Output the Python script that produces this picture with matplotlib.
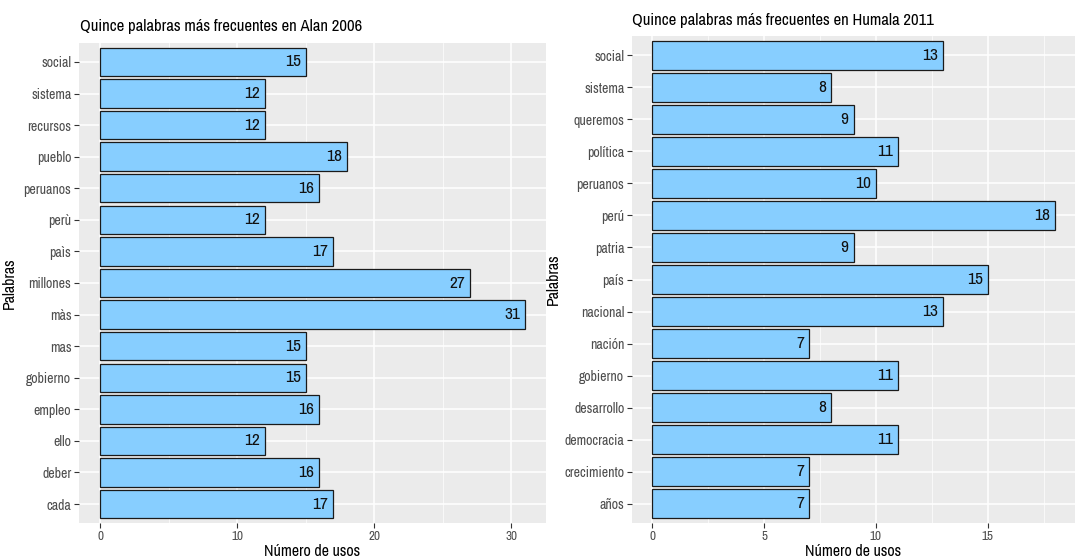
import matplotlib
matplotlib.use("Agg")
import matplotlib.pyplot as plt
from matplotlib import font_manager

fams = set(f.name for f in font_manager.fontManager.ttflist)
FONT = "Liberation Sans"
for cand in ["Liberation Sans Narrow", "Archivo Narrow", "Arimo"]:
    if cand in fams:
        FONT = cand
        break
plt.rcParams['font.family'] = [FONT, 'DejaVu Sans']

alan_words = ["social", "sistema", "recursos", "pueblo", "peruanos", "perù", "paìs",
              "millones", "màs", "mas", "gobierno", "empleo", "ello", "deber", "cada"]
alan_counts = [15, 12, 12, 18, 16, 12, 17, 27, 31, 15, 15, 16, 12, 16, 17]
alan_ticks = [0, 10, 20, 30]

humala_words = ["social", "sistema", "queremos", "política", "peruanos", "perú", "patria",
                "país", "nacional", "nación", "gobierno", "desarrollo", "democracia",
                "crecimiento", "años"]
humala_counts = [13, 8, 9, 11, 10, 18, 9, 15, 13, 7, 11, 8, 11, 7, 7]
humala_ticks = [0, 5, 10, 15]

W, H = 1085, 559
fig = plt.figure(figsize=(W / 100, H / 100), dpi=100)


def panel(rect_px, words, counts, ticks, title, title_xy, ylab_x):
    x0, y0, x1, y1 = rect_px
    ax = fig.add_axes([x0 / W, (H - y1) / H, (x1 - x0) / W, (y1 - y0) / H])
    ax.set_facecolor("#EBEBEB")
    n = len(words)
    pos = list(range(n - 1, -1, -1))
    ax.barh(pos, counts, height=0.9, color="#87CEFF", edgecolor="#1A1A1A", linewidth=0.9, zorder=3)
    for p, c in zip(pos, counts):
        ax.annotate(str(c), xy=(c, p), xytext=(-3.5, 0), textcoords="offset points",
                    ha="right", va="center", fontsize=12.5, color="#111111", zorder=4)
    mx = max(counts)
    ax.set_xlim(-0.05 * mx, mx * 1.05)
    ax.set_ylim(-0.6, n - 0.4)
    ax.set_yticks(pos)
    ax.set_yticklabels(words)
    ax.set_xticks(ticks)
    ax.set_xticklabels([str(t) for t in ticks])
    minors = [(ticks[i] + ticks[i + 1]) / 2 for i in range(len(ticks) - 1)]
    step = ticks[1] - ticks[0]
    if ticks[-1] + step / 2 < mx * 1.05:
        minors.append(ticks[-1] + step / 2)
    ax.set_xticks(minors, minor=True)
    ax.grid(True, which="major", color="white", linewidth=1.1, zorder=0)
    ax.grid(True, which="minor", axis="x", color="white", linewidth=0.5, zorder=0)
    ax.set_axisbelow(True)
    for s in ax.spines.values():
        s.set_visible(False)
    ax.tick_params(axis="both", which="major", length=3.5, width=0.8, color="#333333",
                   labelcolor="#4D4D4D", labelsize=10, pad=2)
    ax.tick_params(axis="x", which="major", labelsize=9.5)
    ax.tick_params(axis="both", which="minor", length=0)
    ax.set_xlabel("Número de usos", fontsize=11.5, color="black", labelpad=1.5)
    ax.set_ylabel("Palabras", fontsize=11.5, color="black")
    ax.yaxis.set_label_coords((ylab_x - x0) / (x1 - x0), 0.5)
    fig.text(title_xy[0] / W, 1 - title_xy[1] / H, title, fontsize=12, color="black",
             ha="left", va="center")
    return ax


panel((79, 43, 546, 523), alan_words, alan_counts, alan_ticks,
      "Quince palabras más frecuentes en Alan 2006", (80, 27), 17)
panel((632, 36, 1075, 523), humala_words, humala_counts, humala_ticks,
      "Quince palabras más frecuentes en Humala 2011", (632, 20), 561)

fig.savefig("out.png", dpi=100)
